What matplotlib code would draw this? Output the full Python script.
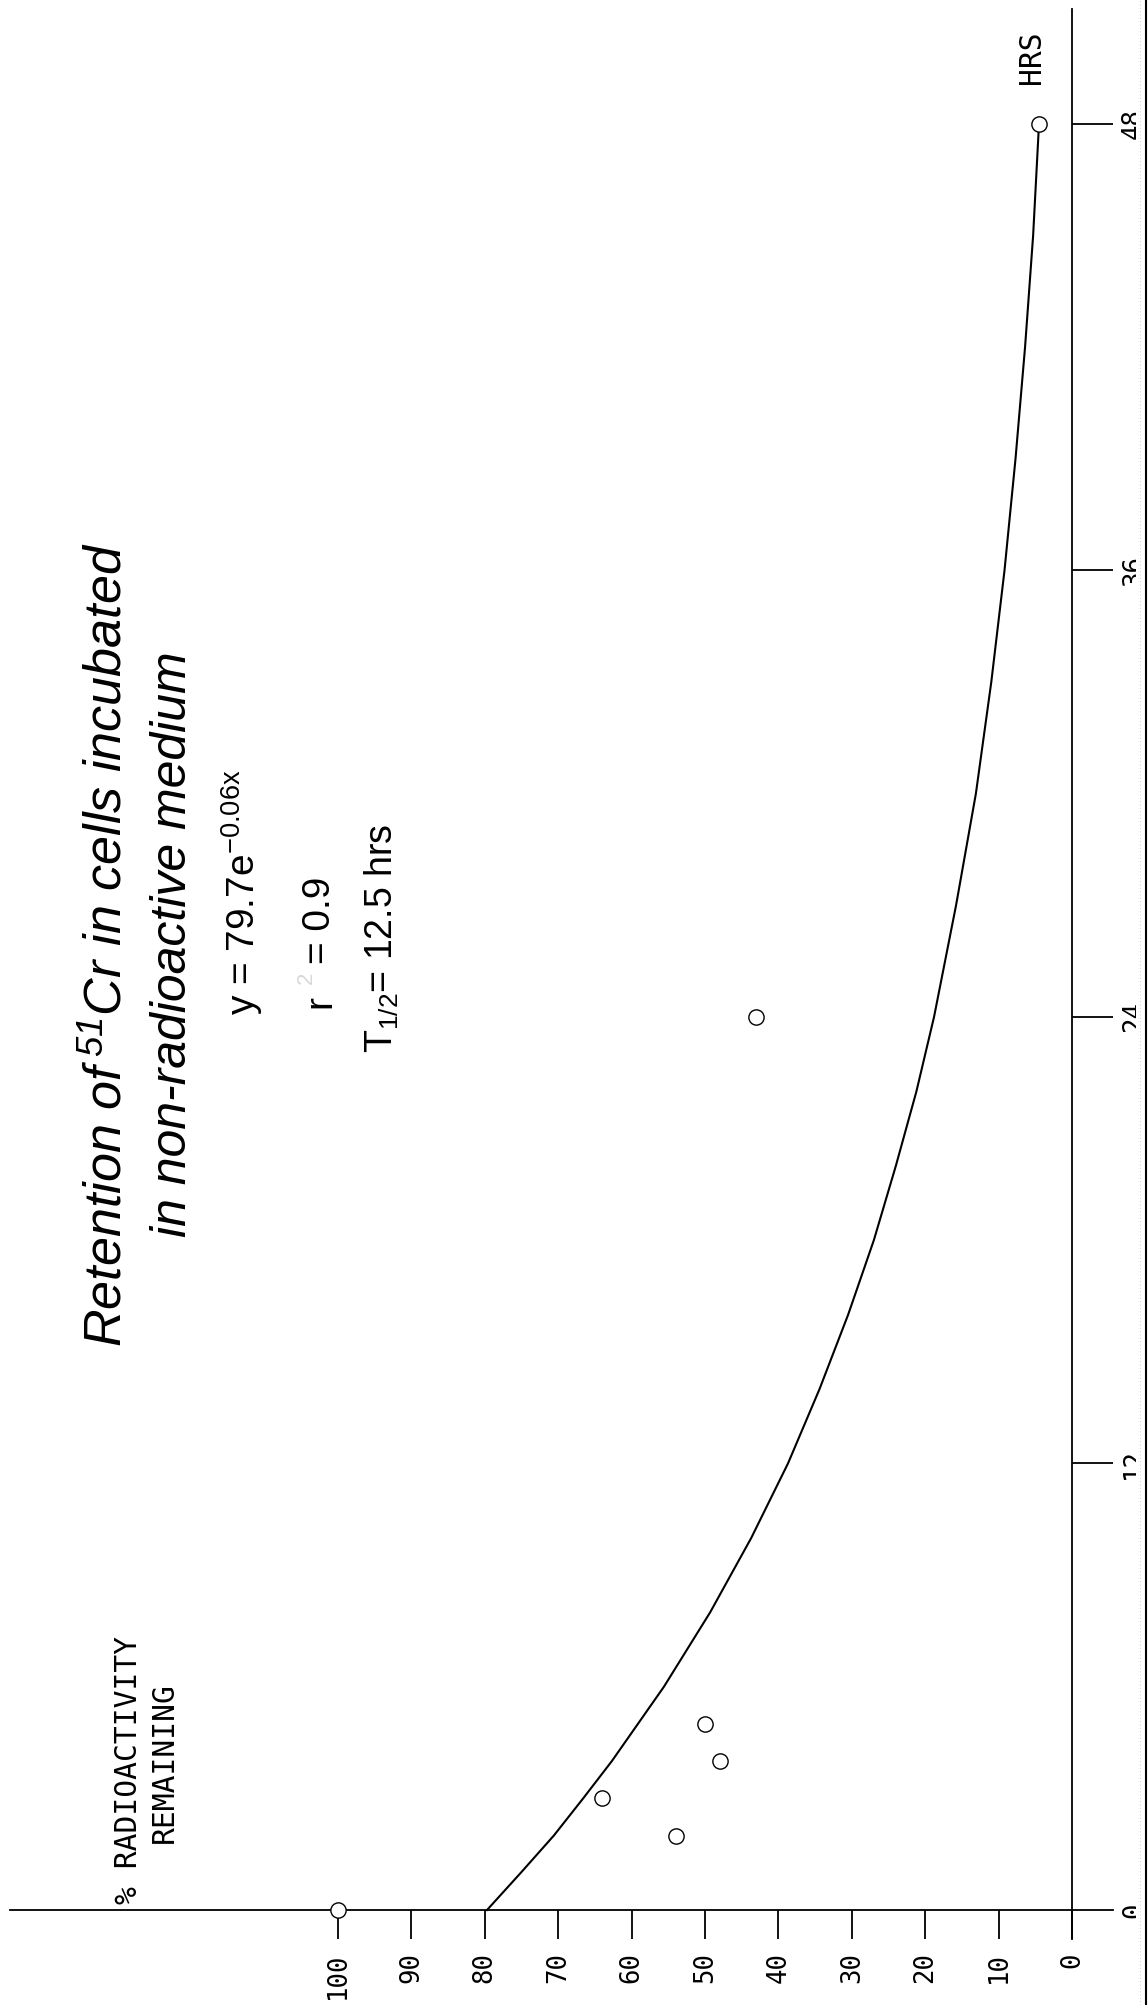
import matplotlib
matplotlib.use('Agg')
import matplotlib.pyplot as plt
from matplotlib.patches import Rectangle
from matplotlib.lines import Line2D

plt.rcParams['mathtext.default'] = 'regular'

# measured retention (% radioactivity remaining) vs time (hrs)
hours = [0, 2, 3, 4, 5, 24, 48]
percent = [100, 54, 64, 48, 50, 43, 4.5]

# fitted curve y = 79.7e^-0.06x as drawn on the plot
curve_hours = [0, 1, 2, 3, 4, 6, 8, 10, 12, 14, 16, 18, 20, 22, 24,
               27, 30, 33, 36, 39, 42, 45, 48]
curve_pct = [79.7, 75.1, 70.6, 66.6, 62.7, 55.6, 49.3, 43.7, 38.7, 34.4,
             30.5, 27.0, 24.0, 21.2, 18.8, 15.8, 13.1, 11.0, 9.2, 7.7,
             6.4, 5.3, 4.5]

pct_ticks = [100, 90, 80, 70, 60, 50, 40, 30, 20, 10, 0]
hour_ticks = [0, 12, 24, 36, 48]

W, H = 1148, 2005
fig = plt.figure(figsize=(W / 100, H / 100), dpi=100)
ax = fig.add_axes([0, 0, 1, 1])
ax.set_xlim(146.05, -10.35)
ax.set_ylim(-2.553, 51.33)
ax.axis('off')


def px(x, y):
    return x / W, 1 - y / H


mono = 'DejaVu Sans Mono'
sans = ['Liberation Sans', 'DejaVu Sans']

# axes lines
ax.plot([144.7, -5.6], [0, 0], color='black', lw=1.3)
ax.plot([0, 0], [-0.78, 51.1], color='black', lw=1.3)
ax.vlines(pct_ticks, -0.78, 0, color='black', lw=1.3)
ax.hlines(hour_ticks[1:], -5.6, 0, color='black', lw=1.3)

for p in pct_ticks:
    ax.text(p, -1.13, str(p), rotation=90, rotation_mode='anchor',
            ha='right', va='center', fontsize=18.5, family=mono)
for h in hour_ticks:
    ax.text(-9.4, h, str(h), rotation=90, rotation_mode='anchor',
            ha='center', va='baseline', fontsize=18.5, family=mono)

# curve and points
ax.plot(curve_pct, curve_hours, color='black', lw=1.5)
ax.plot(percent, hours, 'o', mfc='white', mec='black', ms=11, mew=1.0)

# axis titles
fig.text(*px(137, 1770), '% RADIOACTIVITY', rotation=90, rotation_mode='anchor',
         ha='center', va='baseline', fontsize=21.3, family=mono)
fig.text(*px(173, 1763), 'REMAINING', rotation=90, rotation_mode='anchor',
         ha='center', va='baseline', fontsize=21.3, family=mono)
fig.text(*px(1040, 57), 'HRS', rotation=90, rotation_mode='anchor',
         ha='center', va='baseline', fontsize=21.3, family=mono)

# chart title
fig.text(*px(122, 945), r'Retention of$\,^{51}$Cr in cells incubated', rotation=90,
         rotation_mode='anchor', ha='center', va='baseline', fontsize=37.5,
         family=sans, style='italic')
fig.text(*px(186, 944), 'in non-radioactive medium', rotation=90,
         rotation_mode='anchor', ha='center', va='baseline', fontsize=36,
         family=sans, style='italic')

# fit statistics
fig.text(*px(255, 1015), r'y = 79.7e$^{-0.06x}$', rotation=90, rotation_mode='anchor',
         ha='left', va='baseline', fontsize=28, family=sans)
fig.text(*px(330, 1008), 'r', rotation=90, rotation_mode='anchor',
         ha='left', va='baseline', fontsize=28, family=sans)
fig.text(*px(312, 984), '2', rotation=90, rotation_mode='anchor',
         ha='left', va='baseline', fontsize=16, family=sans, color='#d8d8d8')
fig.text(*px(330, 964), '= 0.9', rotation=90, rotation_mode='anchor',
         ha='left', va='baseline', fontsize=28, family=sans)
fig.text(*px(393, 1053), r'T$_{1/2}$= 12.5 hrs', rotation=90, rotation_mode='anchor',
         ha='left', va='baseline', fontsize=27, family=sans)

# page edge of the scan
fig.add_artist(Rectangle(px(1136, H), 10 / W, 1, transform=fig.transFigure,
                         facecolor='white', edgecolor='none', zorder=5))
fig.add_artist(Line2D([1139.5 / W] * 2, [0, 1], transform=fig.transFigure,
                      color='#bbbbbb', lw=0.6, ls=(0, (1, 3)), zorder=6))
fig.add_artist(Line2D([1146 / W] * 2, [0, 1], transform=fig.transFigure,
                      color='black', lw=1.5, zorder=6))

fig.savefig('out.png', dpi=100, facecolor='white')
